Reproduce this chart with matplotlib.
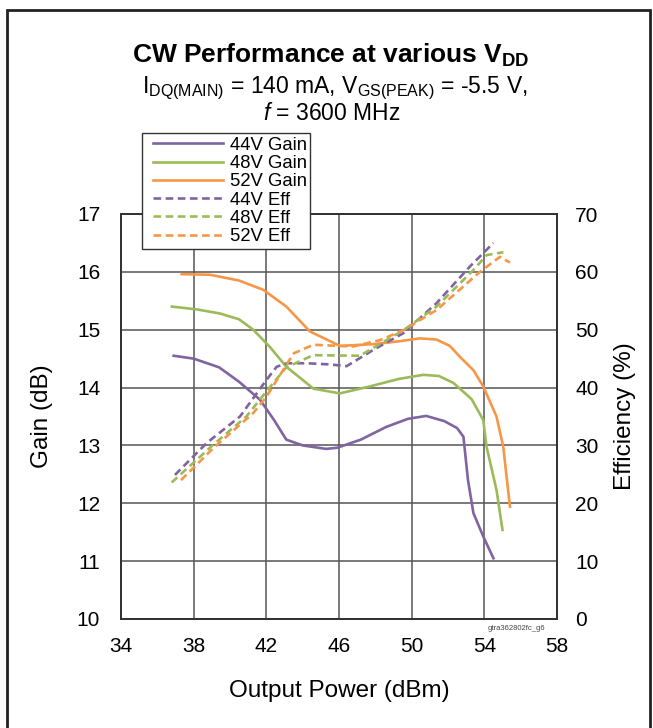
import matplotlib
matplotlib.use("Agg")
import matplotlib.pyplot as plt
from matplotlib.patches import Rectangle
from matplotlib.legend_handler import HandlerLine2D

plt.rcParams['font.family'] = ['Liberation Sans', 'DejaVu Sans']
plt.rcParams['mathtext.fontset'] = 'custom'
plt.rcParams['mathtext.rm'] = 'Liberation Sans'
plt.rcParams['mathtext.it'] = 'Liberation Sans:italic'
plt.rcParams['mathtext.bf'] = 'Liberation Sans:bold'

# gain curves (dB) vs output power (dBm)
pout_g44 = [36.9, 38.0, 39.4, 40.5, 41.65, 42.4, 43.1, 44.0, 45.3, 45.9, 47.2, 48.6, 49.8, 50.8, 51.8, 52.5, 52.85, 53.1, 53.4, 53.95, 54.5]
gain_44 = [14.55, 14.5, 14.35, 14.1, 13.79, 13.45, 13.1, 13.0, 12.94, 12.96, 13.1, 13.32, 13.46, 13.51, 13.42, 13.3, 13.15, 12.4, 11.83, 11.42, 11.05]

pout_g48 = [36.8, 38.2, 39.45, 40.5, 41.28, 42.2, 43.1, 44.6, 46.05, 47.7, 49.3, 50.64, 51.5, 52.3, 53.3, 53.94, 54.12, 54.67, 55.0]
gain_48 = [15.4, 15.35, 15.28, 15.18, 15.0, 14.7, 14.36, 13.98, 13.9, 14.02, 14.15, 14.22, 14.2, 14.08, 13.8, 13.44, 12.98, 12.23, 11.54]

pout_g52 = [37.34, 38.9, 40.5, 41.83, 43.1, 44.4, 46.05, 47.88, 49.3, 50.46, 51.37, 52.1, 52.66, 53.4, 53.94, 54.67, 55.04, 55.41]
gain_52 = [15.96, 15.95, 15.85, 15.69, 15.4, 14.97, 14.72, 14.75, 14.8, 14.85, 14.83, 14.72, 14.53, 14.3, 14.02, 13.5, 12.98, 11.94]

# drain efficiency curves (%)
pout_e44 = [36.97, 38.71, 40.55, 42.0, 42.57, 43.12, 44.22, 45.5, 46.42, 47.88, 49.54, 51.37, 53.2, 54.5]
eff_44 = [24.9, 30.4, 35.0, 41.3, 43.6, 44.2, 44.2, 44.0, 43.7, 46.5, 49.4, 54.6, 60.9, 65.0]

pout_e48 = [36.79, 39.07, 40.9, 42.2, 43.1, 44.58, 47.15, 49.54, 51.37, 53.39, 54.13, 55.05]
eff_48 = [23.6, 30.1, 35.0, 40.1, 43.5, 45.6, 45.5, 49.9, 54.0, 60.3, 62.9, 63.4]

pout_e52 = [37.3, 39.07, 41.28, 42.0, 43.5, 44.58, 46.78, 48.25, 49.54, 51.37, 53.76, 54.86, 55.41]
eff_52 = [24.0, 29.5, 35.6, 38.4, 45.9, 47.4, 47.1, 48.2, 49.9, 53.4, 60.0, 62.6, 61.6]

c44 = '#8064A2'
c48 = '#9BBB59'
c52 = '#F79646'


# legend handler that leaves a little blank before the line sample
class PadHandler(HandlerLine2D):
    def create_artists(self, legend, orig_handle, xdescent, ydescent, width, height, fontsize, trans):
        p = 5
        return super().create_artists(legend, orig_handle, xdescent - p, ydescent, width - p,
                                      height, fontsize, trans)


fig = plt.figure(figsize=(6.53, 7.28), dpi=100)
ax = fig.add_axes([121/653, 1-619/728, 436/653, 405/728])
ax2 = ax.twinx()

# outer frame round the whole chart
fig.patches.append(Rectangle((7/653, -0.05), 643/653, 1.05 - 10/728, transform=fig.transFigure,
                             fill=False, edgecolor='#222222', linewidth=2.0))

lw = 1.9
dash = (2.9, 1.7)
h1, = ax.plot(pout_g44, gain_44, color=c44, lw=lw, label='44V Gain')
h2, = ax.plot(pout_g48, gain_48, color=c48, lw=lw, label='48V Gain')
h3, = ax.plot(pout_g52, gain_52, color=c52, lw=lw, label='52V Gain')
h4, = ax2.plot(pout_e44, eff_44, color=c44, lw=lw, dashes=dash, label='44V Eff')
h5, = ax2.plot(pout_e48, eff_48, color=c48, lw=lw, dashes=dash, label='48V Eff')
h6, = ax2.plot(pout_e52, eff_52, color=c52, lw=lw, dashes=dash, label='52V Eff')

ax.set_xlim(34, 58)
ax.set_ylim(10, 17)
ax2.set_ylim(0, 70)
ax.set_xticks(range(34, 59, 4))
ax.set_yticks(range(10, 18))
ax2.set_yticks(range(0, 71, 10))
ax.grid(True, color='#555555', linewidth=1.1)
ax.set_axisbelow(True)
ax.tick_params(axis='both', length=0, labelsize=15, pad=13)
ax.tick_params(axis='y', pad=15)
ax2.tick_params(axis='y', length=0, labelsize=15, pad=13)
for a in (ax, ax2):
    for s in a.spines.values():
        s.set_color('#333333')
        s.set_linewidth(1.3)

ax.set_xlabel('Output Power (dBm)', fontsize=17.5, labelpad=17)
ax.set_ylabel('Gain (dB)', fontsize=17.5, labelpad=17)
ax2.set_ylabel('Efficiency (%)', fontsize=17.5, labelpad=11)

fig.text(331/653, 1-55/728, r'CW Performance at various V$_{\mathbf{DD}}$', fontsize=19,
         fontweight='bold', ha='center', va='center')
fig.text(335/653, 1-88/728, r'I$_{\mathrm{DQ(MAIN)}}$ = 140 mA, V$_{\mathrm{GS(PEAK)}}$ = -5.5 V,',
         fontsize=16.5, ha='center', va='center')
fig.text(332/653, 1-114/728, r'$\mathit{f}$ = 3600 MHz', fontsize=16.5, ha='center', va='center')
fig.text(545/653, 1-629/728, 'gtra362802fc_g6', fontsize=5.5, color='#444444', ha='right', va='center')

leg = fig.legend(handles=[h1, h2, h3, h4, h5, h6], loc='upper left',
                 bbox_to_anchor=(142/653, 1-133/728), fontsize=13.3, handlelength=4.2,
                 handletextpad=0.35, labelspacing=0.07, borderpad=0.2, borderaxespad=0,
                 fancybox=False, framealpha=1, edgecolor='#333333',
                 handler_map={h: PadHandler() for h in [h1, h2, h3, h4, h5, h6]})
leg.get_frame().set_linewidth(1.0)

fig.savefig('out.png', dpi=100)
